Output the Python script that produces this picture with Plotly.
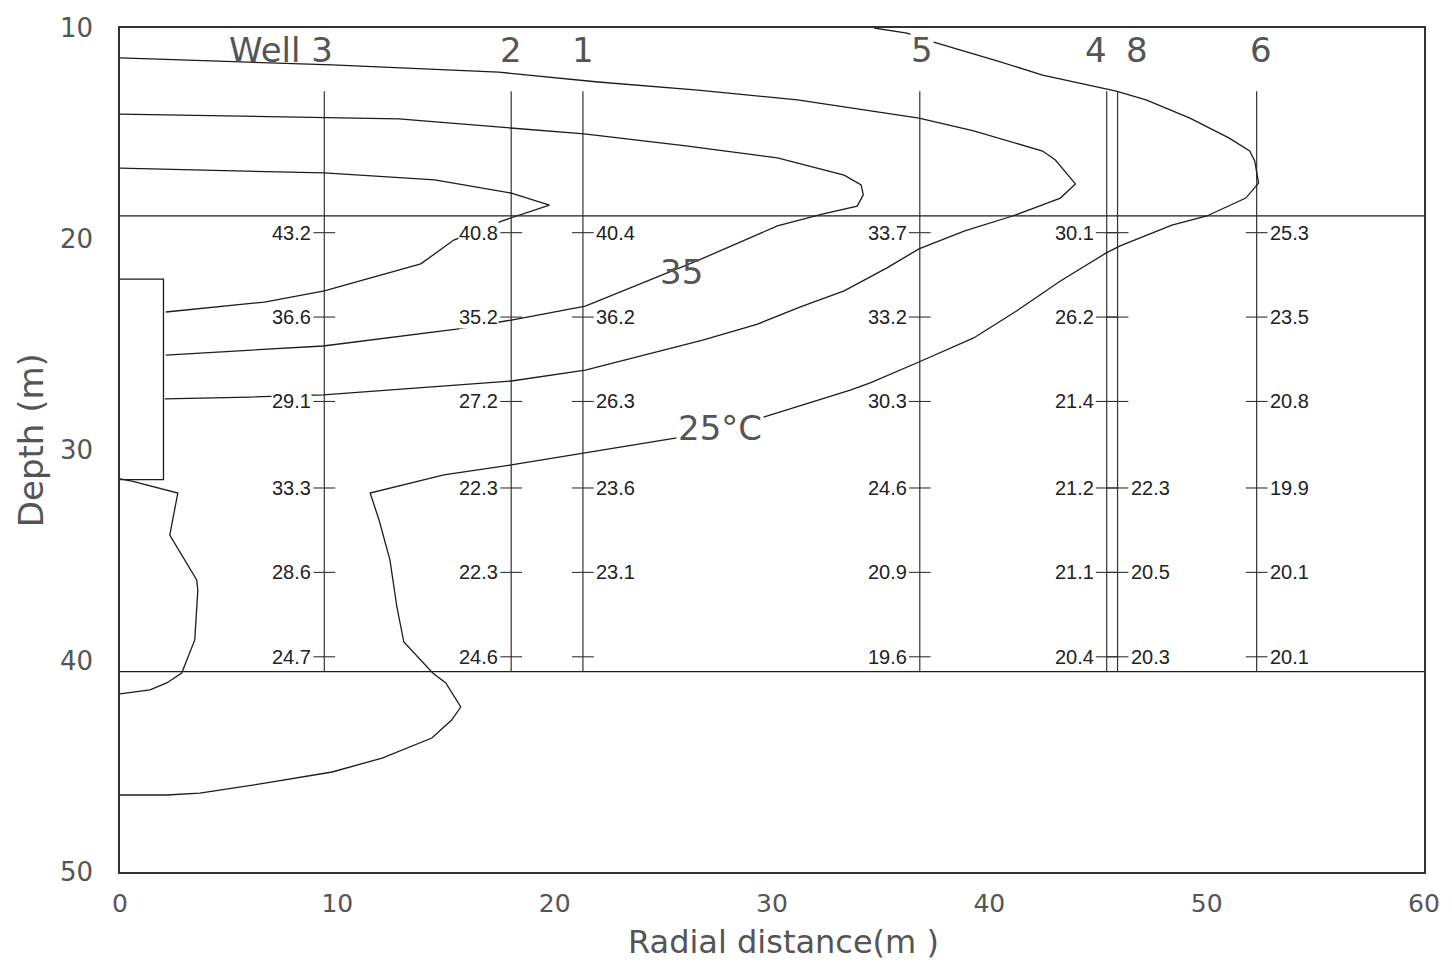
import plotly.graph_objects as go

# ---- wells: radial distance (m) of each observation well ----
well_names = ["Well 3", "2", "1", "5", "4", "8", "6"]
well_x = [9.4, 18.0, 21.3, 36.8, 45.4, 45.9, 52.3]
well_label_side = ["left", "left", "right", "left", "left", "right", "right"]

# measurement depths (m)
depth_levels = [19.7, 23.7, 27.7, 31.8, 35.8, 39.8]

# measured temperatures (deg C) per well, one value per depth level
temps_w3 = [43.2, 36.6, 29.1, 33.3, 28.6, 24.7]
temps_w2 = [40.8, 35.2, 27.2, 22.3, 22.3, 24.6]
temps_w1 = [40.4, 36.2, 26.3, 23.6, 23.1, None]
temps_w5 = [33.7, 33.2, 30.3, 24.6, 20.9, 19.6]
temps_w4 = [30.1, 26.2, 21.4, 21.2, 21.1, 20.4]
temps_w8 = [None, None, None, 22.3, 20.5, 20.3]
temps_w6 = [25.3, 23.5, 20.8, 19.9, 20.1, 20.1]
well_temps = [temps_w3, temps_w2, temps_w1, temps_w5, temps_w4, temps_w8, temps_w6]

# aquifer boundaries and well extent (m)
aquifer_top = 18.9
aquifer_bottom = 40.5
well_top = 13.0

# injection well screen
screen_radius = 2.0
screen_top = 21.9
screen_bottom = 31.4

# ---- isotherms (radial distance, depth) ----
iso25_r = [34.70, 36.21, 37.40, 40.24, 42.45, 45.84, 47.21, 49.23, 51.02, 51.98, 52.21,
           52.39, 51.80, 50.01, 48.40, 46.02, 45.38, 43.27, 41.25, 39.28, 36.76, 34.52,
           33.60, 31.17, 29.61, 25.62, 21.41, 18.01, 14.90, 11.51, 11.92, 12.42, 12.74,
           13.06, 14.39, 14.99, 15.68, 15.26, 14.35, 12.06, 9.76, 6.74, 3.67, 2.15, 0.0]
iso25_z = [10.00, 10.24, 10.66, 11.52, 12.23, 12.99, 13.41, 14.27, 15.21, 15.83, 16.30,
           17.35, 18.06, 18.91, 19.34, 20.33, 20.66, 21.99, 23.41, 24.69, 25.83, 26.82,
           27.16, 27.96, 28.44, 29.43, 30.14, 30.71, 31.18, 32.04, 33.32, 35.21, 37.44,
           39.10, 40.57, 41.04, 42.18, 42.80, 43.65, 44.60, 45.26, 45.78, 46.26, 46.35, 46.35]

iso30_r = [0.0, 5.18, 9.76, 17.42, 22.00, 26.59, 31.17, 36.76, 39.28, 42.45, 43.04, 43.96,
           43.27, 42.08, 41.07, 38.87, 36.76, 35.29, 33.32, 31.31, 29.34, 26.81, 21.41,
           18.01, 9.35, 5.96, 2.06]
iso30_z = [11.42, 11.61, 11.75, 12.09, 12.56, 12.94, 13.41, 14.27, 14.88, 15.83, 16.26,
           17.39, 18.06, 18.53, 18.91, 19.62, 20.47, 21.37, 22.46, 23.22, 24.03, 24.79,
           26.21, 26.73, 27.39, 27.49, 27.58]

iso35_r = [0.0, 9.40, 12.83, 17.97, 21.36, 26.04, 30.25, 33.32, 34.10, 34.20, 33.92,
           32.31, 30.25, 26.63, 21.41, 18.01, 15.49, 9.35, 2.11]
iso35_z = [14.08, 14.27, 14.31, 14.74, 15.02, 15.59, 16.16, 16.97, 17.44, 17.91, 18.44,
           18.82, 19.38, 21.00, 23.18, 23.84, 24.27, 25.07, 25.50]

iso40_r = [0.0, 9.40, 14.48, 17.97, 19.76, 17.97, 17.56, 15.36, 13.84, 9.40, 6.65, 2.11]
iso40_z = [16.64, 16.87, 17.20, 17.82, 18.39, 19.00, 19.15, 20.05, 21.18, 22.46, 22.99, 23.46]

# lower-left closed isotherm below the screen
iso25b_r = [0.0, 0.55, 2.66, 2.29, 3.53, 3.58, 3.44, 2.84, 2.15, 1.38, 0.0]
iso25b_z = [31.37, 31.47, 32.04, 34.03, 36.16, 36.64, 39.00, 40.57, 41.04, 41.37, 41.56]

# isotherm labels
iso_label_text = ["35", "25°C"]
iso_label_r = [25.85, 27.59]
iso_label_z = [21.56, 28.96]

X_RANGE = [0, 60]
Z_RANGE = [50, 10]

LINE = "#1c1c1c"
GRAY_TXT = "#555555"
ROUND_FONT = "DejaVu Sans"
NUM_FONT = "Liberation Sans"

# horizontal nudges (m) so neighbouring well names do not collide
NAME_NUDGE = {"Well 3": -2.0, "5": 0.1, "4": -0.5, "8": 0.9, "6": 0.2}

fig = go.Figure()

# aquifer boundaries
for z in (aquifer_top, aquifer_bottom):
    fig.add_trace(go.Scatter(x=X_RANGE, y=[z, z], mode="lines",
                             line=dict(color=LINE, width=1.3), hoverinfo="skip"))

# observation wells
wx, wz = [], []
for x in well_x:
    wx += [x, x, None]
    wz += [well_top, aquifer_bottom, None]
fig.add_trace(go.Scatter(x=wx, y=wz, mode="lines",
                         line=dict(color="#333333", width=1.2), hoverinfo="skip"))

# measurement ticks on each well
tick_half = 0.5
tx, tz = [], []
for x in well_x:
    for z in depth_levels:
        tx += [x - tick_half, x + tick_half, None]
        tz += [z, z, None]
fig.add_trace(go.Scatter(x=tx, y=tz, mode="lines",
                         line=dict(color="#333333", width=1.1), hoverinfo="skip"))

# injection well screen
fig.add_trace(go.Scatter(x=[0, screen_radius, screen_radius, 0],
                         y=[screen_top, screen_top, screen_bottom, screen_bottom],
                         mode="lines", line=dict(color=LINE, width=1.3), hoverinfo="skip"))

# isotherms
for r, z in [(iso25_r, iso25_z), (iso30_r, iso30_z), (iso35_r, iso35_z),
             (iso40_r, iso40_z), (iso25b_r, iso25b_z)]:
    fig.add_trace(go.Scatter(x=r, y=z, mode="lines",
                             line=dict(color=LINE, width=1.3), hoverinfo="skip"))

annotations = []

# measured temperature values beside the ticks
for x, side, temps in zip(well_x, well_label_side, well_temps):
    for z, t in zip(depth_levels, temps):
        if t is None:
            continue
        if side == "left":
            ax, anchor = x - tick_half - 0.05, "right"
        else:
            ax, anchor = x + tick_half + 0.05, "left"
        annotations.append(dict(x=ax, y=z, xref="x", yref="y", text=f"{t:.1f}",
                                showarrow=False, xanchor=anchor, yanchor="middle",
                                bgcolor="white", borderpad=0,
                                font=dict(family=NUM_FONT, size=20, color="#222222")))

# well names along the top
for name, x in zip(well_names, well_x):
    annotations.append(dict(x=x + NAME_NUDGE.get(name, 0.0), y=11.05, xref="x", yref="y",
                            text=name, showarrow=False, xanchor="center", yanchor="middle",
                            bgcolor="white" if name == "5" else "rgba(0,0,0,0)",
                            borderpad=0,
                            font=dict(family=ROUND_FONT, size=34, color=GRAY_TXT)))

# isotherm labels
for txt, r, z in zip(iso_label_text, iso_label_r, iso_label_z):
    annotations.append(dict(x=r, y=z, xref="x", yref="y", text=txt, showarrow=False,
                            xanchor="center", yanchor="middle",
                            bgcolor="white" if "C" in txt else "rgba(0,0,0,0)",
                            font=dict(family=ROUND_FONT, size=34, color=GRAY_TXT)))

# axis titles
annotations.append(dict(x=0.509, y=-0.0835, xref="paper", yref="paper",
                        text="Radial distance(m )", showarrow=False,
                        xanchor="center", yanchor="middle",
                        font=dict(family=ROUND_FONT, size=32, color=GRAY_TXT)))
annotations.append(dict(x=-0.068, y=0.512, xref="paper", yref="paper",
                        text="Depth (m)", showarrow=False, textangle=-90,
                        xanchor="center", yanchor="middle",
                        font=dict(family=ROUND_FONT, size=34, color=GRAY_TXT)))

fig.update_layout(
    width=1452, height=964,
    margin=dict(l=120, r=23, t=28, b=92),
    paper_bgcolor="white", plot_bgcolor="white",
    showlegend=False,
    annotations=annotations,
    xaxis=dict(range=X_RANGE, tickvals=[0, 10, 20, 30, 40, 50, 60],
               showgrid=False, zeroline=False, showline=True, mirror=True,
               linecolor="#333333", linewidth=1.5,
               ticks="outside", ticklen=8, tickcolor="rgba(0,0,0,0)",
               tickfont=dict(family=ROUND_FONT, size=25, color=GRAY_TXT)),
    yaxis=dict(range=Z_RANGE, tickvals=[10, 20, 30, 40, 50],
               showgrid=False, zeroline=False, showline=True, mirror=True,
               linecolor="#333333", linewidth=1.5,
               ticks="outside", ticklen=20, tickcolor="rgba(0,0,0,0)",
               tickfont=dict(family=ROUND_FONT, size=26, color=GRAY_TXT)),
)

fig.write_html("out.html")
